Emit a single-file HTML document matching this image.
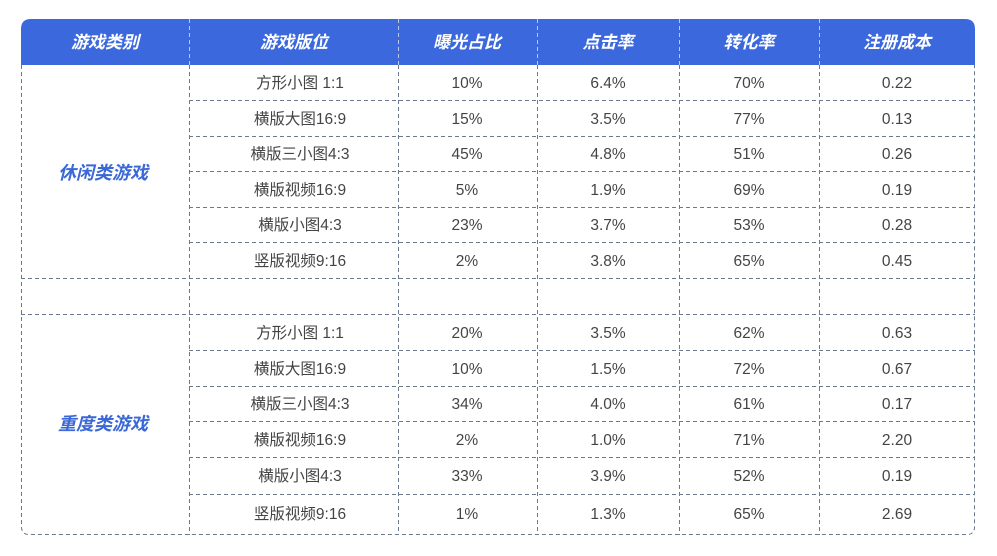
<!DOCTYPE html>
<html><head><meta charset="utf-8"><style>
html,body{margin:0;padding:0;background:#fff;width:997px;height:556px;overflow:hidden}
svg text{font-family:"Liberation Sans","Noto Sans CJK SC",sans-serif}
</style></head><body>
<svg width="997" height="556" xmlns="http://www.w3.org/2000/svg">
<path d="M21,65 V29 Q21,19 31,19 H965 Q975,19 975,29 V65 Z" fill="#3b69dd"/>
<g stroke="#bcc9ea" stroke-width="1" stroke-dasharray="4,3" fill="none">
<line x1="189.5" y1="19" x2="189.5" y2="65"/>
<line x1="398.5" y1="19" x2="398.5" y2="65"/>
<line x1="537.5" y1="19" x2="537.5" y2="65"/>
<line x1="679.5" y1="19" x2="679.5" y2="65"/>
<line x1="819.5" y1="19" x2="819.5" y2="65"/>
</g>
<g stroke="#6a7890" stroke-width="1" stroke-dasharray="4,3" fill="none">
<path d="M21.5,65 V527 Q21.5,534.5 29,534.5 H967 Q974.5,534.5 974.5,527 V65"/>
<line x1="189.5" y1="65" x2="189.5" y2="535"/>
<line x1="398.5" y1="65" x2="398.5" y2="535"/>
<line x1="537.5" y1="65" x2="537.5" y2="535"/>
<line x1="679.5" y1="65" x2="679.5" y2="535"/>
<line x1="819.5" y1="65" x2="819.5" y2="535"/>
<line x1="189" y1="100.5" x2="975" y2="100.5"/>
<line x1="189" y1="136.5" x2="975" y2="136.5"/>
<line x1="189" y1="171.5" x2="975" y2="171.5"/>
<line x1="189" y1="207.5" x2="975" y2="207.5"/>
<line x1="189" y1="242.5" x2="975" y2="242.5"/>
<line x1="21" y1="278.5" x2="975" y2="278.5"/>
<line x1="21" y1="314.5" x2="975" y2="314.5"/>
<line x1="189" y1="350.5" x2="975" y2="350.5"/>
<line x1="189" y1="386.5" x2="975" y2="386.5"/>
<line x1="189" y1="421.5" x2="975" y2="421.5"/>
<line x1="189" y1="457.5" x2="975" y2="457.5"/>
<line x1="189" y1="494.5" x2="975" y2="494.5"/>
</g>
<g fill="#fff" font-size="17" font-weight="bold" font-style="italic" text-anchor="middle">
<text x="105" y="48">游戏类别</text><text x="294" y="48">游戏版位</text><text x="467" y="48">曝光占比</text>
<text x="608" y="48">点击率</text><text x="749" y="48">转化率</text><text x="897" y="48">注册成本</text>
</g>
<g fill="#3a68d6" font-size="18" font-weight="bold" font-style="italic" text-anchor="middle">
<text x="103" y="179">休闲类游戏</text><text x="103" y="430">重度类游戏</text>
</g>
<g fill="#444" font-size="15.5" text-anchor="middle">
<text x="300" y="88">方形小图 1:1</text><text x="467" y="88">10%</text><text x="608" y="88">6.4%</text><text x="749" y="88">70%</text><text x="897" y="88">0.22</text>
<text x="300" y="124">横版大图16:9</text><text x="467" y="124">15%</text><text x="608" y="124">3.5%</text><text x="749" y="124">77%</text><text x="897" y="124">0.13</text>
<text x="300" y="159">横版三小图4:3</text><text x="467" y="159">45%</text><text x="608" y="159">4.8%</text><text x="749" y="159">51%</text><text x="897" y="159">0.26</text>
<text x="300" y="195">横版视频16:9</text><text x="467" y="195">5%</text><text x="608" y="195">1.9%</text><text x="749" y="195">69%</text><text x="897" y="195">0.19</text>
<text x="300" y="230">横版小图4:3</text><text x="467" y="230">23%</text><text x="608" y="230">3.7%</text><text x="749" y="230">53%</text><text x="897" y="230">0.28</text>
<text x="300" y="266">竖版视频9:16</text><text x="467" y="266">2%</text><text x="608" y="266">3.8%</text><text x="749" y="266">65%</text><text x="897" y="266">0.45</text>
<text x="300" y="338">方形小图 1:1</text><text x="467" y="338">20%</text><text x="608" y="338">3.5%</text><text x="749" y="338">62%</text><text x="897" y="338">0.63</text>
<text x="300" y="374">横版大图16:9</text><text x="467" y="374">10%</text><text x="608" y="374">1.5%</text><text x="749" y="374">72%</text><text x="897" y="374">0.67</text>
<text x="300" y="409">横版三小图4:3</text><text x="467" y="409">34%</text><text x="608" y="409">4.0%</text><text x="749" y="409">61%</text><text x="897" y="409">0.17</text>
<text x="300" y="445">横版视频16:9</text><text x="467" y="445">2%</text><text x="608" y="445">1.0%</text><text x="749" y="445">71%</text><text x="897" y="445">2.20</text>
<text x="300" y="481">横版小图4:3</text><text x="467" y="481">33%</text><text x="608" y="481">3.9%</text><text x="749" y="481">52%</text><text x="897" y="481">0.19</text>
<text x="300" y="519">竖版视频9:16</text><text x="467" y="519">1%</text><text x="608" y="519">1.3%</text><text x="749" y="519">65%</text><text x="897" y="519">2.69</text>
</g>
</svg>
</body></html>
